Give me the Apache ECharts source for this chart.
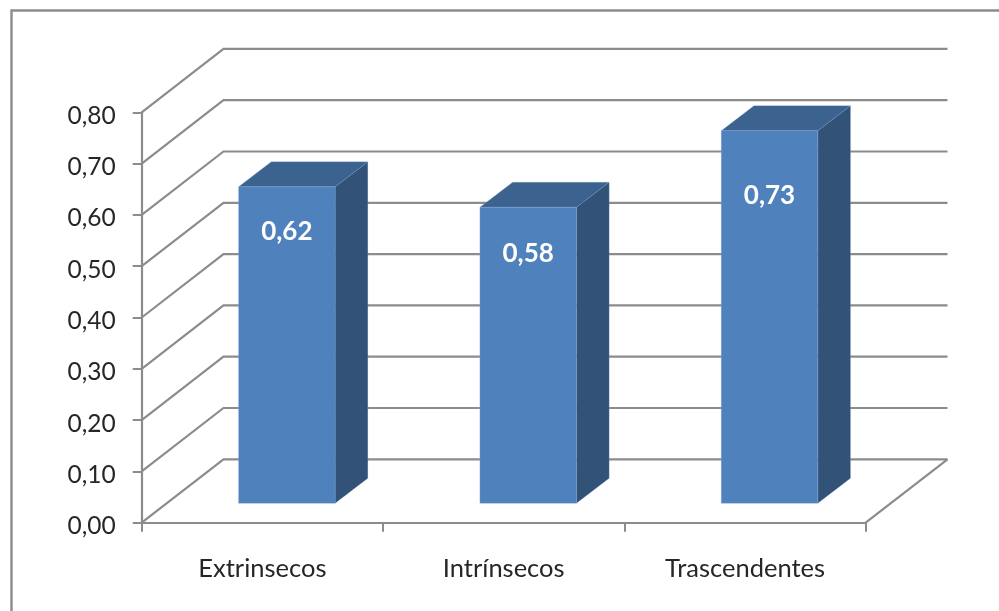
<!DOCTYPE html>
<html>
<head>
<meta charset="utf-8">
<style>html,body{margin:0;padding:0;background:#fff}#c{width:999px;height:611px}</style>
<script src="https://cdn.jsdelivr.net/npm/echarts@6/dist/echarts.min.js"></script>
</head>
<body>
<div id="c"></div>
<script>
const categories = ['Extrinsecos', 'Intrínsecos', 'Trascendentes'];
const values = [0.62, 0.58, 0.73];
const yTicks = [0, 0.1, 0.2, 0.3, 0.4, 0.5, 0.6, 0.7, 0.8];

const LINE = '#8c8c8c', TEXT = '#262626', FONT = 'Lato, Carlito, "Open Sans", sans-serif';
const WALL_DX = 81.8, WALL_DY = 63.4;          // depth of the 3D box
const BAR_DX = 32.7, BAR_DY = 25;              // depth of each column
const BAR_SHIFT_X = 24.5, BAR_SHIFT_Y = 19.4;  // columns stand inside the floor
const BAR_WIDTH = 0.4, BAR_SCALE = 0.995;
const labelDrop = [45, 46, 65];                // label distance below column top

const comma = v => v.toFixed(2).replace('.', ',');
const chart = echarts.init(document.getElementById('c'), null, {renderer: 'canvas'});

function renderWall(params, api) {
  const cs = params.coordSys;
  const y = api.coord([0, api.value(0)])[1];
  const l = cs.x, r = cs.x + cs.width;
  const children = [{
    type: 'polyline',
    shape: {points: [[l, y], [l + WALL_DX, y - WALL_DY], [r + WALL_DX, y - WALL_DY]]},
    style: {stroke: LINE, lineWidth: 2.2, fill: null}
  }];
  if (api.value(0) === 0) {
    children.push({
      type: 'line',
      shape: {x1: r, y1: y, x2: r + WALL_DX, y2: y - WALL_DY},
      style: {stroke: LINE, lineWidth: 2.2}
    });
  }
  return {type: 'group', children};
}

function renderBar(params, api) {
  const idx = api.value(0), v = api.value(1);
  const c0 = api.coord([idx, 0]), c1 = api.coord([idx, v]);
  const w = api.size([1, 0])[0] * BAR_WIDTH;
  const x0 = c0[0] + BAR_SHIFT_X - w / 2, x1 = x0 + w;
  const yb = c0[1] - BAR_SHIFT_Y;
  const yt = yb - (c0[1] - c1[1]) * BAR_SCALE;
  const edge = 'rgba(130,170,220,0.35)';
  return {
    type: 'group',
    children: [
      {type: 'polygon', shape: {points: [[x1, yt], [x1 + BAR_DX, yt - BAR_DY], [x1 + BAR_DX, yb - BAR_DY], [x1, yb]]},
        style: {fill: '#325278', stroke: edge, lineWidth: 0.6}},
      {type: 'polygon', shape: {points: [[x0, yt], [x0 + BAR_DX, yt - BAR_DY], [x1 + BAR_DX, yt - BAR_DY], [x1, yt]]},
        style: {fill: '#3c628f', stroke: edge, lineWidth: 0.6}},
      {type: 'rect', shape: {x: x0, y: yt, width: w, height: yb - yt},
        style: {fill: '#4f81bd', stroke: edge, lineWidth: 1}},
      {type: 'text', x: (x0 + x1) / 2, y: yt + labelDrop[idx],
        style: {text: comma(v), fill: '#fff', font: 'bold 26px ' + FONT, align: 'center', verticalAlign: 'middle'}}
    ]
  };
}

chart.setOption({
  animation: false,
  backgroundColor: '#fff',
  graphic: [{type: 'rect', shape: {x: 11.5, y: 10.5, width: 1100, height: 800}, style: {fill: null, stroke: '#8c8c8c', lineWidth: 2.4}, silent: true, z: 0}],
  grid: {left: 141.7, top: 112.3, width: 724, height: 410.4},
  xAxis: {
    type: 'category', data: categories, boundaryGap: true,
    axisLine: {lineStyle: {color: LINE, width: 2.2}},
    axisTick: {show: true, alignWithLabel: false, length: 9, lineStyle: {color: LINE, width: 2}},
    axisLabel: {color: TEXT, fontFamily: FONT, fontSize: 25.5, margin: 33}
  },
  yAxis: {
    type: 'value', min: 0, max: 0.8, interval: 0.1,
    splitLine: {show: false},
    axisLine: {show: true, lineStyle: {color: LINE, width: 2.2}},
    axisTick: {show: true, length: 9, lineStyle: {color: LINE, width: 2}},
    axisLabel: {color: TEXT, fontFamily: FONT, fontSize: 24.5, margin: 26, verticalAlign: 'top', lineHeight: 7, formatter: comma}
  },
  series: [
    {type: 'custom', renderItem: renderWall, data: yTicks.map(v => [v]), encode: {y: 0}, silent: true, z: 1, clip: false},
    {type: 'custom', renderItem: renderBar, data: values.map((v, i) => [i, v]), encode: {x: 0, y: 1}, z: 2, clip: false}
  ]
});
</script>
</body>
</html>
